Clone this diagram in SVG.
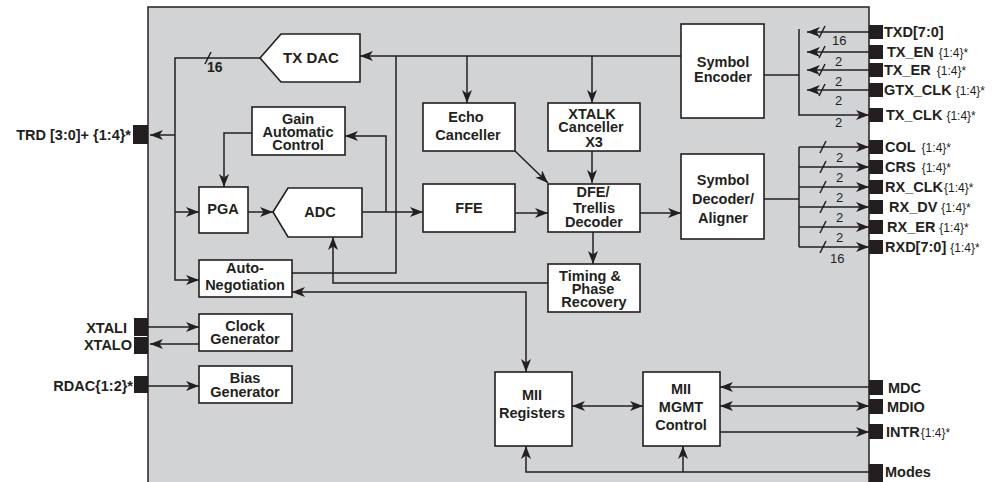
<svg xmlns="http://www.w3.org/2000/svg" width="992" height="482" viewBox="0 0 992 482">
<defs>
<style>
.blk{fill:#fff;stroke:#231f20;stroke-width:1.6}
.t{font-family:"Liberation Sans",Arial,sans-serif;font-weight:bold;font-size:14.5px;fill:#231f20;text-anchor:middle}
.pl{font-family:"Liberation Sans",Arial,sans-serif;font-weight:bold;font-size:14.5px;fill:#231f20}
.pr{font-family:"Liberation Sans",Arial,sans-serif;font-weight:normal;font-size:12px;fill:#231f20}
.n{font-family:"Liberation Sans",Arial,sans-serif;font-size:13px;fill:#231f20}
.pin{fill:#231f20}
.c{fill:none;stroke:#231f20;stroke-width:1.5}
.a{marker-end:url(#ah)}
.b{marker-start:url(#ah);marker-end:url(#ah)}
</style>
<marker id="ah" viewBox="0 0 13 10" refX="13" refY="5" markerWidth="13" markerHeight="10" markerUnits="userSpaceOnUse" orient="auto-start-reverse">
<path d="M0,0 L13,5 L0,10 L3.5,5 z" fill="#231f20"/>
</marker>
</defs>

<rect x="148" y="7" width="721" height="490" fill="#d1d3d4" stroke="#231f20" stroke-width="1.5"/>

<g id="connectors">
<path class="c a" d="M681,56 H360"/>
<path class="c a" d="M467,56 V103"/>
<path class="c a" d="M592,56 V103"/>
<path class="c" d="M396,56 V273 H292"/>
<path class="c a" d="M260,58 H175 V280 H199"/>
<path class="c a" d="M175,135 H150"/>
<path class="c a" d="M175,212 H199"/>
<path class="c a" d="M252,133 H224 V187"/>
<path class="c a" d="M248,212 H273"/>
<path class="c a" d="M362,212 H423"/>
<path class="c a" d="M386,212 V136 H345"/>
<path class="c a" d="M515,213 H548"/>
<path class="c a" d="M515,151 L548,183"/>
<path class="c a" d="M592,151 V183"/>
<path class="c a" d="M593,232 V264"/>
<path class="c a" d="M640,213 H681"/>
<path class="c a" d="M548,283 H333 V237"/>
<path class="c b" d="M292,292 H526 V372"/>
<path class="c b" d="M572,406 H643"/>
<path class="c a" d="M869,387 H720"/>
<path class="c b" d="M720,406 H869"/>
<path class="c a" d="M720,432 H869"/>
<path class="c a" d="M869,472 H526 V446"/>
<path class="c a" d="M683,472 V446"/>
<path class="c a" d="M148,327 H199"/>
<path class="c a" d="M199,344 H150"/>
<path class="c a" d="M148,386 H199"/>
<!-- TX bus -->
<path class="c" d="M764,75 H799"/>
<path class="c a" d="M799,29 V115 H869"/>
<path class="c a" d="M869,32 H807"/>
<path class="c a" d="M869,52 H807"/>
<path class="c a" d="M869,70 H807"/>
<path class="c a" d="M869,90 H807"/>
<!-- RX bus -->
<path class="c" d="M764,199 H799"/>
<path class="c" d="M799,147 V247"/>
<path class="c a" d="M799,147 H869"/>
<path class="c a" d="M799,167 H869"/>
<path class="c a" d="M799,187 H869"/>
<path class="c a" d="M799,207 H869"/>
<path class="c a" d="M799,227 H869"/>
<path class="c a" d="M799,247 H869"/>
<!-- bus slashes -->
<path class="c" d="M205,64 L211,52"/>
<path class="c" d="M819,38 L825,26 M819,58 L825,46 M819,76 L825,64 M819,96 L825,84"/>
<path class="c" d="M820,153 L826,141 M820,173 L826,161 M820,193 L826,181 M820,213 L826,201 M820,233 L826,221 M820,253 L826,241"/>
</g>

<g id="bus-widths">
<text x="207" y="72" class="pl" style="font-size:14px">16</text>
<text x="832" y="45" class="n">16</text>
<text x="835" y="66" class="n">2</text>
<text x="835" y="86" class="n">2</text>
<text x="835" y="105" class="n">2</text>
<text x="835" y="127" class="n">2</text>
<text x="836" y="162" class="n">2</text>
<text x="836" y="182" class="n">2</text>
<text x="836" y="202" class="n">2</text>
<text x="836" y="222" class="n">2</text>
<text x="836" y="242" class="n">2</text>
<text x="830" y="263" class="n">16</text>
</g>

<g id="tx-dac"><path class="blk" d="M260,58 L281,34 H360 V82 H281 Z"/><text x="311" y="63" class="t" style="font-size:15px">TX DAC</text></g>
<g id="gain-ctrl"><rect class="blk" x="252" y="107" width="93" height="48"/><text class="t"><tspan x="298" y="124">Gain</tspan><tspan x="298" y="137">Automatic</tspan><tspan x="298" y="150">Control</tspan></text></g>
<g id="pga"><rect class="blk" x="199" y="187" width="49" height="46"/><text x="223" y="214" class="t">PGA</text></g>
<g id="adc"><path class="blk" d="M273,212 L288,188 H362 V237 H288 Z"/><text x="320" y="217" class="t">ADC</text></g>
<g id="auto-neg"><rect class="blk" x="199" y="260" width="93" height="37"/><text class="t"><tspan x="245" y="273">Auto-</tspan><tspan x="245" y="290">Negotiation</tspan></text></g>
<g id="clock-gen"><rect class="blk" x="199" y="314" width="93" height="37"/><text class="t"><tspan x="245" y="331">Clock</tspan><tspan x="245" y="344">Generator</tspan></text></g>
<g id="bias-gen"><rect class="blk" x="199" y="366" width="93" height="37"/><text class="t"><tspan x="245" y="383">Bias</tspan><tspan x="245" y="397">Generator</tspan></text></g>
<g id="echo"><rect class="blk" x="423" y="103" width="92" height="48"/><text class="t"><tspan x="466" y="122">Echo</tspan><tspan x="468" y="140">Canceller</tspan></text></g>
<g id="xtalk"><rect class="blk" x="548" y="103" width="92" height="48"/><text class="t"><tspan x="592" y="119">XTALK</tspan><tspan x="591" y="132">Canceller</tspan><tspan x="594" y="147">X3</tspan></text></g>
<g id="ffe"><rect class="blk" x="423" y="184" width="92" height="48"/><text x="469" y="213" class="t">FFE</text></g>
<g id="dfe"><rect class="blk" x="548" y="184" width="92" height="48"/><text class="t"><tspan x="593" y="197">DFE/</tspan><tspan x="594" y="213">Trellis</tspan><tspan x="594" y="227">Decoder</tspan></text></g>
<g id="timing"><rect class="blk" x="548" y="264" width="92" height="48"/><text class="t"><tspan x="590" y="281">Timing &amp;</tspan><tspan x="593" y="294">Phase</tspan><tspan x="594" y="307">Recovery</tspan></text></g>
<g id="sym-enc"><rect class="blk" x="681" y="24" width="83" height="94"/><text class="t"><tspan x="723" y="67">Symbol</tspan><tspan x="723" y="82">Encoder</tspan></text></g>
<g id="sym-dec"><rect class="blk" x="681" y="154" width="83" height="85"/><text class="t"><tspan x="723" y="185">Symbol</tspan><tspan x="723" y="204">Decoder/</tspan><tspan x="723" y="223">Aligner</tspan></text></g>
<g id="mii-reg"><rect class="blk" x="495" y="372" width="77" height="74"/><text class="t"><tspan x="532" y="400">MII</tspan><tspan x="532" y="418">Registers</tspan></text></g>
<g id="mii-mgmt"><rect class="blk" x="643" y="372" width="77" height="74"/><text class="t"><tspan x="681" y="394">MII</tspan><tspan x="681" y="412">MGMT</tspan><tspan x="681" y="430">Control</tspan></text></g>

<g id="pins-left">
<rect class="pin" x="133" y="125" width="15" height="19"/>
<text x="131" y="140" class="pl" text-anchor="end">TRD [3:0]+ {1:4}*</text>
<rect class="pin" x="134" y="318" width="14" height="18"/>
<text x="127" y="333" class="pl" text-anchor="end">XTALI</text>
<rect class="pin" x="134" y="337" width="14" height="17"/>
<text x="132" y="350" class="pl" text-anchor="end">XTALO</text>
<rect class="pin" x="134" y="376" width="14" height="17"/>
<text x="133" y="391" class="pl" text-anchor="end">RDAC{1:2}*</text>
</g>

<g id="pins-right">
<rect class="pin" x="869" y="25" width="14" height="14"/>
<text x="884" y="37" class="pl">TXD[7:0]</text>
<rect class="pin" x="869" y="45" width="14" height="14"/>
<text y="57" class="pl"><tspan x="887">TX_EN</tspan><tspan dx="5" class="pr">{1:4}*</tspan></text>
<rect class="pin" x="869" y="63" width="14" height="14"/>
<text y="75" class="pl"><tspan x="884">TX_ER</tspan><tspan dx="6" class="pr">{1:4}*</tspan></text>
<rect class="pin" x="869" y="83" width="14" height="14"/>
<text y="95" class="pl"><tspan x="884">GTX_CLK</tspan><tspan dx="4" class="pr">{1:4}*</tspan></text>
<rect class="pin" x="869" y="108" width="14" height="14"/>
<text y="120" class="pl"><tspan x="886">TX_CLK</tspan><tspan dx="4" class="pr">{1:4}*</tspan></text>

<rect class="pin" x="869" y="140" width="14" height="14"/>
<text y="152" class="pl"><tspan x="885">COL</tspan><tspan dx="6" class="pr">{1:4}*</tspan></text>
<rect class="pin" x="869" y="160" width="14" height="14"/>
<text y="172" class="pl"><tspan x="885">CRS</tspan><tspan dx="6" class="pr">{1:4}*</tspan></text>
<rect class="pin" x="869" y="180" width="14" height="14"/>
<text y="192" class="pl"><tspan x="885">RX_CLK</tspan><tspan dx="1" class="pr">{1:4}*</tspan></text>
<rect class="pin" x="869" y="200" width="14" height="14"/>
<text y="212" class="pl"><tspan x="889">RX_DV</tspan><tspan dx="4" class="pr">{1:4}*</tspan></text>
<rect class="pin" x="869" y="220" width="14" height="14"/>
<text y="232" class="pl"><tspan x="887">RX_ER</tspan><tspan dx="4" class="pr">{1:4}*</tspan></text>
<rect class="pin" x="869" y="240" width="14" height="14"/>
<text y="252" class="pl"><tspan x="885">RXD[7:0]</tspan><tspan dx="4" class="pr">{1:4}*</tspan></text>

<rect class="pin" x="869" y="380" width="14" height="15"/>
<text x="888" y="393" class="pl">MDC</text>
<rect class="pin" x="869" y="399" width="14" height="15"/>
<text x="887" y="412" class="pl">MDIO</text>
<rect class="pin" x="869" y="424" width="14" height="15"/>
<text y="437" class="pl"><tspan x="886">INTR</tspan><tspan dx="1" class="pr">{1:4}*</tspan></text>
<rect class="pin" x="869" y="464" width="14" height="18"/>
<text x="885" y="477" class="pl">Modes</text>
</g>
</svg>
